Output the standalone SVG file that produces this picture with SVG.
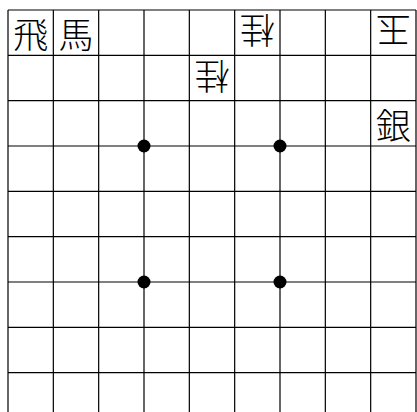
<svg xmlns="http://www.w3.org/2000/svg" width="417" height="412" viewBox="0 0 417 412">
<style>
.g{stroke:#000;stroke-width:1.2;fill:none}
.p{font-family:"Noto Sans CJK JP","Noto Sans CJK SC",sans-serif;font-size:35px;font-weight:300;text-anchor:middle;dominant-baseline:central;fill:#000}
</style>
<rect x="0" y="0" width="417" height="412" fill="#fff"/>
<g id="board" class="g">
<path d="M8,10V418M53.33,10V418M98.67,10V418M144,10V418M189.33,10V418M234.67,10V418M280,10V418M325.33,10V418M370.67,10V418M416,10V418"/>
<path d="M8,10H416M8,55.33H416M8,100.67H416M8,146H416M8,191.33H416M8,236.67H416M8,282H416M8,327.33H416M8,372.67H416"/>
</g>
<g id="stars" fill="#000">
<circle cx="144" cy="146" r="6.5"/>
<circle cx="280" cy="146" r="6.5"/>
<circle cx="144" cy="282" r="6.5"/>
<circle cx="280" cy="282" r="6.5"/>
</g>
<g id="pieces">
<g id="hisha"><text class="p" x="30.67" y="32.67">飛</text></g>
<g id="uma"><text class="p" x="76" y="32.67">馬</text></g>
<g id="kei1"><text class="p" x="257.33" y="32.67" transform="rotate(180 257.33 32.67)">桂</text></g>
<g id="gyoku"><text class="p" x="393.33" y="32.67" transform="rotate(180 393.33 32.67)">玉</text></g>
<g id="kei2"><text class="p" x="212" y="78" transform="rotate(180 212 78)">桂</text></g>
<g id="gin"><text class="p" x="393.33" y="123.33">銀</text></g>
</g>
</svg>
